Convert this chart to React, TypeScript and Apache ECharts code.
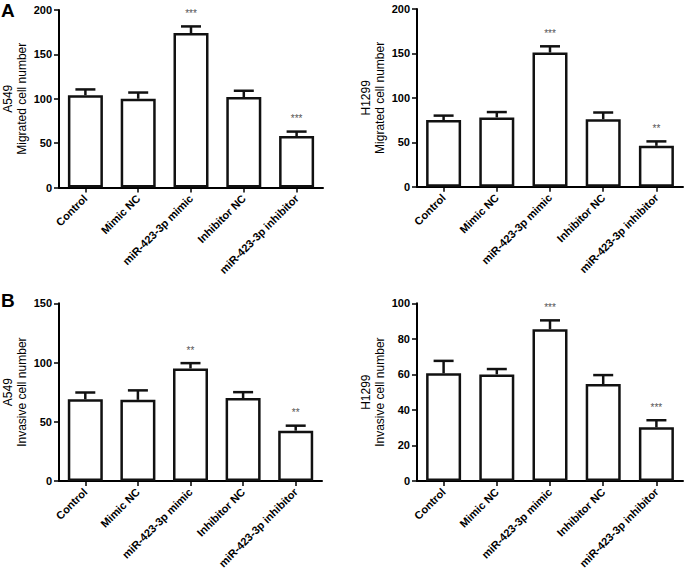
import React, { useEffect, useRef } from "react";
import * as echarts from "echarts";

const categories = ["Control", "Mimic NC", "miR-423-3p mimic", "Inhibitor NC", "miR-423-3p inhibitor"];

const migA549 = [104, 100, 174, 102, 58];
const migA549Err = [6.5, 7, 7.5, 7, 5];
const migA549Stars = ["", "", "***", "", "***"];

const migH1299 = [75, 78, 151, 76, 46];
const migH1299Err = [5, 6, 7, 7.5, 5];
const migH1299Stars = ["", "", "***", "", "**"];

const invA549 = [69, 68.5, 95, 70, 42.5];
const invA549Err = [5.7, 8, 4.5, 5, 4.2];
const invA549Stars = ["", "", "**", "", "**"];

const invH1299 = [60.6, 60, 85.4, 54.6, 30.2];
const invH1299Err = [7, 3, 5, 5, 4];
const invH1299Stars = ["", "", "***", "", "***"];

const yMaxA549Mig = 200, yIntA549Mig = 50;
const yMaxH1299Mig = 200, yIntH1299Mig = 50;
const yMaxA549Inv = 150, yIntA549Inv = 50;
const yMaxH1299Inv = 100, yIntH1299Inv = 20;

const FONT = "Liberation Sans, Arial, sans-serif";

type Panel = {
  grid: { left: number; top: number; width: number; height: number };
  name: string;
  max: number;
  interval: number;
  values: number[];
  errs: number[];
  stars: string[];
};

const panels: Panel[] = [
  { grid: { left: 55, top: 10, width: 268, height: 177.5 }, name: "A549\nMigrated cell number", max: yMaxA549Mig, interval: yIntA549Mig, values: migA549, errs: migA549Err, stars: migA549Stars },
  { grid: { left: 417, top: 9, width: 266, height: 177.7 }, name: "H1299\nMigrated cell number", max: yMaxH1299Mig, interval: yIntH1299Mig, values: migH1299, errs: migH1299Err, stars: migH1299Stars },
  { grid: { left: 50, top: 303.3, width: 272, height: 177.7 }, name: "A549\nInvasive cell number", max: yMaxA549Inv, interval: yIntA549Inv, values: invA549, errs: invA549Err, stars: invA549Stars },
  { grid: { left: 417, top: 303.3, width: 266, height: 177.7 }, name: "H1299\nInvasive cell number", max: yMaxH1299Inv, interval: yIntH1299Inv, values: invH1299, errs: invH1299Err, stars: invH1299Stars },
];

export default function App() {
  const ref = useRef<HTMLDivElement>(null);
  useEffect(() => {
    if (!ref.current) return;
    const chart = echarts.init(ref.current, null, { renderer: "svg" });
    const grids: any[] = [];
    const xAxes: any[] = [];
    const yAxes: any[] = [];
    const series: any[] = [];
    panels.forEach((p, i) => {
      grids.push({ ...p.grid, containLabel: false });
      xAxes.push({
        type: "category",
        gridIndex: i,
        data: categories,
        axisLine: { lineStyle: { color: "#000", width: 2 } },
        axisTick: { show: true, alignWithLabel: true, length: 5, lineStyle: { color: "#000", width: 1.5 } },
        axisLabel: { rotate: 45, interval: 0, margin: 9, color: "#000", fontWeight: "bold", fontSize: 11, fontFamily: FONT },
      });
      yAxes.push({
        type: "value",
        gridIndex: i,
        min: 0,
        max: p.max,
        interval: p.interval,
        name: p.name,
        nameLocation: "middle",
        nameGap: 30,
        nameTextStyle: { color: "#000", fontSize: 12, fontFamily: FONT, lineHeight: 14 },
        splitLine: { show: false },
        axisLine: { show: true, lineStyle: { color: "#000", width: 2 } },
        axisTick: { show: true, length: 5, lineStyle: { color: "#000", width: 1.5 } },
        axisLabel: { margin: 7, color: "#000", fontWeight: "bold", fontSize: 11, fontFamily: FONT },
      });
      series.push({
        type: "bar",
        xAxisIndex: i,
        yAxisIndex: i,
        data: p.values,
        barWidth: 35,
        itemStyle: { color: "#fff", borderColor: "#111", borderWidth: 2.5 },
        silent: true,
      });
      series.push({
        type: "custom",
        xAxisIndex: i,
        yAxisIndex: i,
        clip: false,
        z: 5,
        silent: true,
        itemStyle: { color: "#555" },
        data: p.values.map((v, k) => [k, v, p.errs[k]]),
        renderItem: (params: any, api: any) => {
          const k = api.value(0);
          const v = api.value(1);
          const e = api.value(2);
          const base = api.coord([k, v]);
          const top = api.coord([k, v + e]);
          const star = p.stars[k];
          const children: any[] = [
            { type: "line", shape: { x1: base[0], y1: base[1], x2: top[0], y2: top[1] }, style: { stroke: "#111", lineWidth: 2.5 } },
            { type: "line", shape: { x1: top[0] - 10, y1: top[1], x2: top[0] + 10, y2: top[1] }, style: { stroke: "#111", lineWidth: 2.5 } },
          ];
          if (star) {
            children.push({
              type: "text",
              style: { text: star, x: top[0], y: top[1] - 8, align: "center", verticalAlign: "bottom", fontSize: 10, fontFamily: FONT, fill: "#555" },
            });
          }
          return { type: "group", children };
        },
      });
    });
    chart.setOption({
      animation: false,
      backgroundColor: "#fff",
      grid: grids,
      xAxis: xAxes,
      yAxis: yAxes,
      series,
      graphic: [
        { type: "text", left: 1, top: 1, style: { text: "A", fontSize: 19, fontWeight: "bold", fontFamily: FONT, fill: "#000" } },
        { type: "text", left: 1, top: 291, style: { text: "B", fontSize: 19, fontWeight: "bold", fontFamily: FONT, fill: "#000" } },
      ],
    });
    return () => chart.dispose();
  }, []);
  return <div ref={ref} style={{ position: "fixed", left: 0, top: 0, width: 685, height: 573, background: "#fff" }} />;
}
